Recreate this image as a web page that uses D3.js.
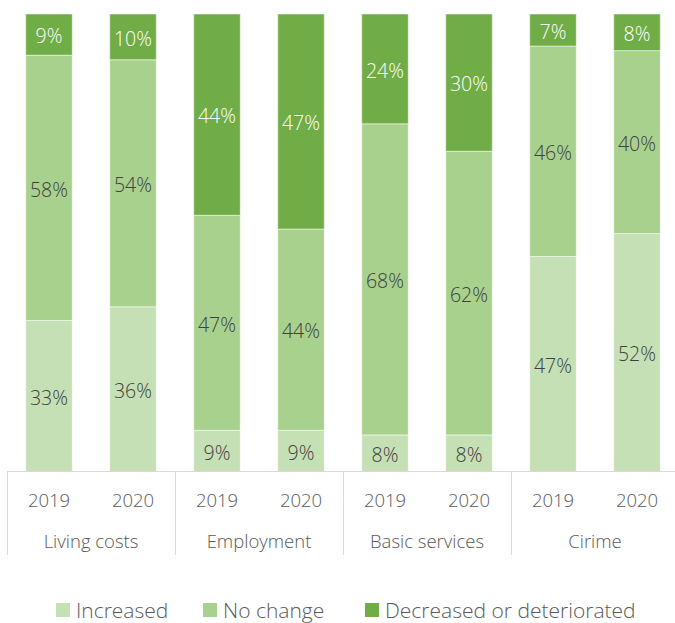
<!DOCTYPE html>
<html>
<head>
<meta charset="utf-8">
<script src="https://cdn.jsdelivr.net/npm/d3@7"></script>
<style>
  body { margin: 0; background: #fff; }
  svg { font-family: "Open Sans", "Noto Sans", sans-serif; font-weight: 350; }
</style>
</head>
<body>
<svg width="675" height="623"></svg>
<script>
// data
var groups = ["Living costs", "Employment", "Basic services", "Cirime"];
var years = ["2019", "2020"];
var seriesNames = ["Increased", "No change", "Decreased or deteriorated"];
var increased = [33, 36, 9, 9, 8, 8, 47, 52];
var noChange = [58, 54, 47, 44, 68, 62, 46, 40];
var decreased = [9, 10, 44, 47, 24, 30, 7, 8];

var colors = ["#c5e0b4", "#a9d18e", "#70ad47"];
var labelColors = ["#404040", "#404040", "#ffffff"];

var svg = d3.select("svg");

// one row per bar
var rows = [];
groups.forEach(function(g, gi) {
  years.forEach(function(y, yi) {
    var i = gi * years.length + yi;
    rows.push({ key: g + "|" + y, group: g, year: y,
      "Increased": increased[i], "No change": noChange[i], "Decreased or deteriorated": decreased[i] });
  });
});

var x = d3.scaleBand()
  .domain(rows.map(function(d) { return d.key; }))
  .range([7, 679])
  .paddingInner(0.446)
  .paddingOuter(0.223);

var xGroup = d3.scaleBand()
  .domain(groups)
  .range([7, 679]);

var y = d3.scaleLinear()
  .domain([0, 100])
  .range([471.5, 14]);

var stacked = d3.stack().keys(seriesNames)(rows);

var layer = svg.append("g")
  .selectAll("g")
  .data(stacked)
  .enter().append("g")
    .attr("fill", function(d, i) { return colors[i]; });

layer.selectAll("rect")
  .data(function(d) { return d; })
  .enter().append("rect")
    .attr("x", function(d) { return x(d.data.key); })
    .attr("y", function(d) { return y(d[1]); })
    .attr("width", x.bandwidth())
    .attr("height", function(d) { return y(d[0]) - y(d[1]); })
    .attr("stroke", "#ffffff")
    .attr("stroke-opacity", 0.5)
    .attr("stroke-width", 1);

// value labels in the middle of each segment
layer.selectAll("text")
  .data(function(d, i) { return d.map(function(s) { return { s: s, i: i }; }); })
  .enter().append("text")
    .attr("x", function(d) { return x(d.s.data.key) + x.bandwidth() / 2; })
    .attr("y", function(d) { return (y(d.s[0]) + y(d.s[1])) / 2; })
    .attr("dy", "0.45em")
    .attr("text-anchor", "middle")
    .attr("font-size", 19.5)
    .attr("fill", function(d) { return labelColors[d.i]; })
    .text(function(d) { return (d.s[1] - d.s[0]) + "%"; });

// axis: baseline + group separators
var axis = svg.append("g").attr("stroke", "#d9d9d9").attr("stroke-width", 1);

axis.append("line")
  .attr("x1", 7).attr("x2", 679)
  .attr("y1", y(0)).attr("y2", y(0));

axis.selectAll("line.sep")
  .data(groups.concat(["end"]))
  .enter().append("line")
    .attr("class", "sep")
    .attr("x1", function(d, i) { return Math.round(7 + i * xGroup.bandwidth()) + 0.5; })
    .attr("x2", function(d, i) { return Math.round(7 + i * xGroup.bandwidth()) + 0.5; })
    .attr("y1", y(0))
    .attr("y2", 555);

svg.append("g")
  .selectAll("text")
  .data(rows)
  .enter().append("text")
    .attr("x", function(d) { return x(d.key) + x.bandwidth() / 2; })
    .attr("y", 500)
    .attr("dy", "0.4em")
    .attr("text-anchor", "middle")
    .attr("font-size", 18.5)
    .attr("fill", "#595959")
    .text(function(d) { return d.year; });

svg.append("g")
  .selectAll("text")
  .data(groups)
  .enter().append("text")
    .attr("x", function(d) { return xGroup(d) + xGroup.bandwidth() / 2; })
    .attr("y", 541)
    .attr("dy", "0.4em")
    .attr("text-anchor", "middle")
    .attr("font-size", 18.5)
    .attr("fill", "#595959")
    .text(function(d) { return d; });

// legend
var legendX = [56, 203, 365];
var legend = svg.append("g")
  .selectAll("g")
  .data(seriesNames)
  .enter().append("g")
    .attr("transform", function(d, i) { return "translate(" + legendX[i] + ",610)"; });

legend.append("rect")
  .attr("x", 0).attr("y", -7)
  .attr("width", 14).attr("height", 14)
  .attr("fill", function(d, i) { return colors[i]; });

legend.append("text")
  .attr("x", 20)
  .attr("dy", "0.38em")
  .attr("font-size", 21)
  .attr("fill", "#595959")
  .text(function(d) { return d; });
</script>
</body>
</html>
